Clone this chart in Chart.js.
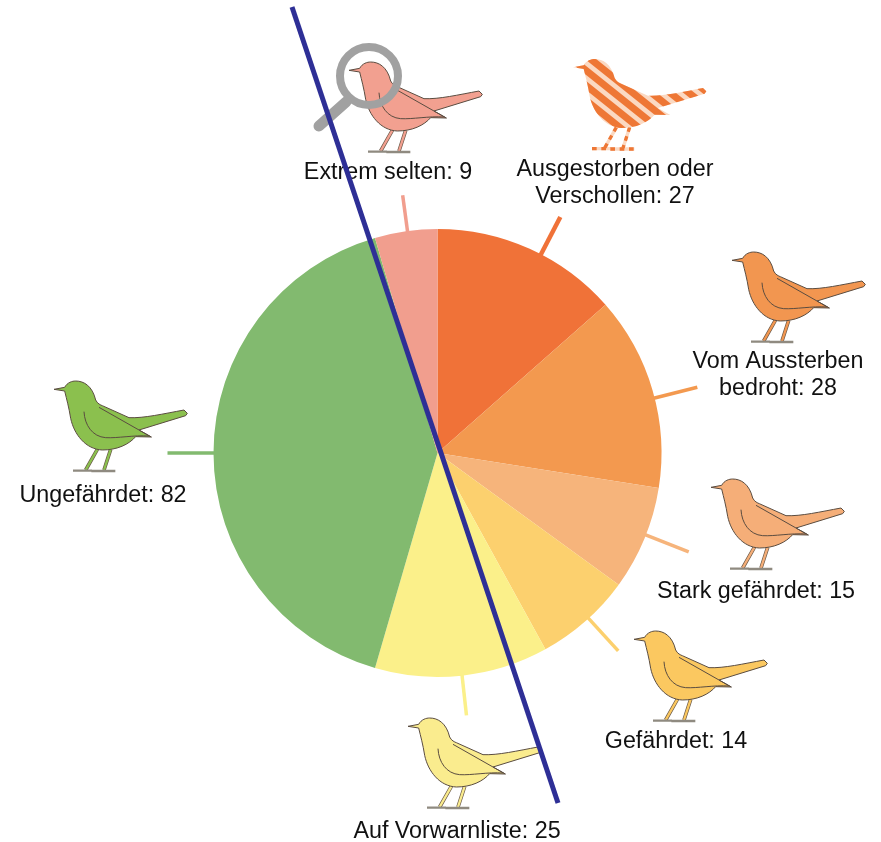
<!DOCTYPE html>
<html>
<head>
<meta charset="utf-8">
<style>
  html, body { margin: 0; padding: 0; background: #fff; }
  canvas { display: block; }
</style>
</head>
<body>
<canvas id="birdChart" width="881" height="842"></canvas>
<script src="https://cdn.jsdelivr.net/npm/chart.js"></script>
<script>
  // slices clockwise from 12 o'clock
  const categories = ['Ausgestorben oder\nVerschollen', 'Vom Aussterben\nbedroht', 'Stark gefährdet', 'Gefährdet', 'Auf Vorwarnliste', 'Ungefährdet', 'Extrem selten'];
  const counts = [27, 28, 15, 14, 25, 82, 9];
  const sliceColors = ['#f07238', '#f3994f', '#f6b47b', '#fcd06e', '#fbf08a', '#82ba6f', '#f19e8e'];
  const birdColors = ['#ee7735', '#f29650', '#f5ae78', '#fbc860', '#faec8e', '#8bc04e', '#f2a090'];

  // layout of the decorations, same order as the slices
  const tickLengths = [42, 44, 46, 44, 40, 46, 36];
  const tickNudges = [3.2, 2, -1, -1, 0, 0, 0.4]; // degrees, ticks are not quite mid-slice
  const birdSpots = [[573, 59], [732, 252], [711, 479], [634, 631], [408, 718], [54, 381], [349, 62]];
  const labelSpots = [[615, 170], [778, 362], [756, 592], [676, 742], [457, 832], [103, 496], [388, 173]];
  const lineHeight = 26.5;

  // bird outline, drawn at 3x then scaled down. origin is beak tip x / head top y
  function birdBody(c) {
      c.beginPath();
      c.moveTo(0, 25);
      c.lineTo(32, 19);
      c.bezierCurveTo(40, 4, 55, 0, 65, 0);
      c.bezierCurveTo(90, 0, 115, 15, 125, 57);
      c.bezierCurveTo(130, 68, 140, 72, 145, 74);
      c.lineTo(225, 110);
      c.bezierCurveTo(270, 112, 330, 98, 390, 87);
      c.lineTo(400, 97);
      c.lineTo(395, 104);
      c.lineTo(255, 147);
      c.lineTo(292, 168);
      c.lineTo(245, 167);
      c.bezierCurveTo(225, 190, 190, 207, 145, 207);
      c.bezierCurveTo(95, 205, 60, 160, 50, 112);
      c.bezierCurveTo(45, 80, 38, 55, 32, 30);
      c.closePath();
  }

  function birdLegs(c) {
      c.beginPath();
      c.moveTo(130, 205);
      c.lineTo(95, 267);
      c.moveTo(170, 205);
      c.lineTo(150, 267);
      c.stroke();
  }

  function birdFeet(c) {
      c.beginPath();
      c.moveTo(57, 269);
      c.lineTo(114, 269);
      c.moveTo(112, 270);
      c.lineTo(184, 270);
      c.stroke();
  }

  function birdWing(c) {
      c.beginPath();
      c.moveTo(135, 79);
      c.lineTo(292, 168);
      c.moveTo(90, 92);
      c.bezierCurveTo(92, 132, 115, 167, 155, 170);
      c.bezierCurveTo(190, 172, 240, 162, 285, 165);
      c.stroke();
  }

  function drawBird(c, x, y, color) {
      c.save();
      c.translate(x, y);
      c.scale(1 / 3, 1 / 3);
      c.lineJoin = 'round';
      c.lineCap = 'butt';
      c.strokeStyle = '#6b5a4a';
      c.lineWidth = 11;
      birdLegs(c);
      c.strokeStyle = color;
      c.lineWidth = 7;
      birdLegs(c);
      c.strokeStyle = '#8f8a80';
      c.lineWidth = 7;
      birdFeet(c);
      c.fillStyle = color;
      birdBody(c);
      c.fill();
      c.strokeStyle = '#5a4c40';
      c.lineWidth = 3;
      c.stroke();
      birdWing(c);
      c.restore();
  }

  // the extinct one has no outline, only stripes
  function drawStripedBird(c, x, y, color) {
      c.save();
      c.translate(x, y);
      c.scale(1 / 3, 1 / 3);
      c.lineCap = 'butt';
      c.strokeStyle = '#fbd9c2';
      c.lineWidth = 10;
      birdLegs(c);
      birdFeet(c);
      c.setLineDash([14, 14]);
      c.strokeStyle = color;
      birdLegs(c);
      birdFeet(c);
      c.setLineDash([]);
      birdBody(c);
      c.fillStyle = '#fbd9c2';
      c.fill();
      c.clip();
      c.strokeStyle = color;
      c.lineWidth = 21;
      for (let k = -357; k < 300; k += 45) {
          c.beginPath();
          c.moveTo(-10, k - 8);
          c.lineTo(420, k + 336);
          c.stroke();
      }
      c.restore();
  }

  const decorations = {
      id: 'decorations',
      afterDraw(chart) {
          const c = chart.ctx;
          const arcs = chart.getDatasetMeta(0).data;

          c.save();
          arcs.forEach((arc, i) => {
              const mid = (arc.startAngle + arc.endAngle) / 2 + tickNudges[i] * Math.PI / 180;
              c.lineWidth = i === 0 ? 4.5 : 3.5;
              c.strokeStyle = sliceColors[i];
              c.beginPath();
              c.moveTo(arc.x + Math.cos(mid) * (arc.outerRadius - 1), arc.y + Math.sin(mid) * (arc.outerRadius - 1));
              c.lineTo(arc.x + Math.cos(mid) * (arc.outerRadius + tickLengths[i]), arc.y + Math.sin(mid) * (arc.outerRadius + tickLengths[i]));
              c.stroke();
          });

          birdSpots.forEach((spot, i) => {
              if (i === 0) drawStripedBird(c, spot[0], spot[1], birdColors[i]);
              else drawBird(c, spot[0], spot[1], birdColors[i]);
          });

          // magnifier over the rare bird
          c.strokeStyle = '#a1a1a1';
          c.lineCap = 'round';
          c.lineWidth = 8;
          c.beginPath();
          c.arc(369, 76, 29, 0, Math.PI * 2);
          c.stroke();
          c.lineWidth = 11;
          c.beginPath();
          c.moveTo(346, 102);
          c.lineTo(319, 126);
          c.stroke();

          c.fillStyle = '#111';
          c.font = '23.3px "Liberation Sans", Arial, sans-serif';
          c.textAlign = 'center';
          c.textBaseline = 'middle';
          categories.forEach((cat, i) => {
              const lines = (cat + ': ' + counts[i]).split('\n');
              lines.forEach((line, n) => {
                  c.fillText(line, labelSpots[i][0], labelSpots[i][1] + n * lineHeight);
              });
          });

          // blue slash goes over everything
          c.strokeStyle = '#2e2f96';
          c.lineCap = 'butt';
          c.lineWidth = 5;
          c.beginPath();
          c.moveTo(292, 7);
          c.lineTo(558, 803);
          c.stroke();
          c.restore();
      }
  };

  new Chart(document.getElementById('birdChart'), {
      type: 'pie',
      plugins: [decorations],
      data: {
          labels: categories,
          datasets: [{
              data: counts,
              backgroundColor: sliceColors,
              borderWidth: 0,
          }]
      },
      options: {
          responsive: false,
          animation: false,
          layout: {
              padding: { left: 213.5, right: 219.5, top: 229, bottom: 165 }
          },
          plugins: {
              legend: { display: false },
              tooltip: { enabled: false }
          }
      }
  });
</script>
</body>
</html>
